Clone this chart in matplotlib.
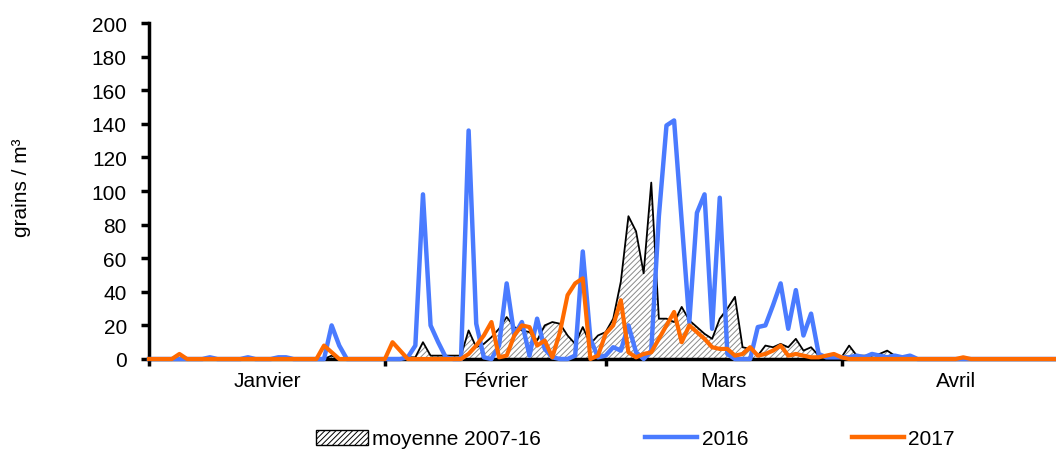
import matplotlib.pyplot as plt
import numpy as np
from matplotlib.patches import Patch
from matplotlib.lines import Line2D

# daily pollen counts, Jan 1 .. Apr 30 (index 0 = 1 janvier)
moyenne = (
    # janvier
    [0, 0, 0, 0, 0, 0, 0, 0, 0, 0, 0, 0, 0, 0, 0, 0, 0, 0, 0, 0,
     0, 0, 0, 0, 2, 0, 0, 0, 0, 0, 0]
    # fevrier
    + [0, 0, 0, 1, 1, 10, 2, 2, 2, 2, 2, 17, 7, 9, 13, 18, 25, 19, 17, 16,
       11, 20, 22, 21, 14, 9, 19, 9, 14]
    # mars
    + [16, 24, 46, 85, 76, 51, 105, 24, 24, 22, 31, 23, 19, 15, 12, 24, 30, 37, 7, 6,
       2, 8, 7, 9, 7, 12, 5, 7, 2, 1, 1]
    # avril
    + [1, 8, 2, 2, 2, 3, 5, 2, 1, 1, 0.5, 0, 0, 0, 0, 0, 0, 0, 0, 0,
       0, 0, 0, 0, 0, 0, 0, 0, 0, 0]
)
y2016 = (
    [0, 0, 0, 0, 0, 0, 0, 0, 1, 0, 0, 0, 0, 1, 0, 0, 0, 1, 1, 0,
     0, 0, 0, 0, 20, 8, 0, 0, 0, 0, 0]
    + [0, 0, 0, 1, 8, 98, 20, 10, 1, 0, 0, 136, 21, 1, 0, 8, 45, 14, 22, 2,
       24, 6, 1, 0, 0, 2, 64, 12, 1]
    + [2, 7, 5, 20, 4, 0, 5, 85, 139, 142, 82, 22, 87, 98, 18, 96, 3, 0, 0, 0,
       19, 20, 32, 45, 18, 41, 14, 27, 3, 1, 1]
    + [1, 1, 2, 1, 3, 2, 1, 2, 1, 2, 0, 0, 0, 0, 0, 0, 0, 0, 0, 0,
       0, 0, 0, 0, 0, 0, 0, 0, 0, 0]
)
y2017 = (
    [0, 0, 0, 0, 3, 0, 0, 0, 0, 0, 0, 0, 0, 0, 0, 0, 0, 0, 0, 0,
     0, 0, 0, 8, 4, 0, 0, 0, 0, 0, 0]
    + [0, 10, 5, 0, 0, 0, 0, 0, 0, 0, 0, 3, 8, 14, 22, 1, 2, 14, 20, 19,
       8, 11, 1, 16, 38, 45, 48, 0, 2]
    + [15, 20, 35, 4, 1, 3, 4, 12, 20, 28, 10, 20, 16, 12, 7, 6, 6, 2, 3, 7,
       2, 3, 5, 8, 2, 3, 2, 1, 1, 2, 3]
    + [1, 0, 0, 0, 0, 0, 0, 0, 0, 0, 0, 0, 0, 0, 0, 0, 1, 0, 0, 0,
       0, 0, 0, 0, 0, 0, 0, 0, 0, 0]
)
months = ["Janvier", "Février", "Mars", "Avril"]
month_starts = [0, 31, 60, 91, 121]
labels = ["moyenne 2007-16", "2016", "2017"]

blue = "#4a7bff"
orange = "#ff6a00"
fs = 15

plt.rcParams['font.family'] = ['Liberation Sans', 'DejaVu Sans']
plt.rcParams['hatch.color'] = '#8a8a8a'
plt.rcParams['hatch.linewidth'] = 0.7

fig = plt.figure(figsize=(10.56, 4.56), dpi=100)
ax = fig.add_axes([149/1056, 96/456, 1 - 149/1056, 336/456])

days = np.arange(len(moyenne))
ax.fill_between(days, 0, moyenne, facecolor='white', edgecolor='#8a8a8a',
                hatch='//////', linewidth=0, zorder=1)
ax.plot(days, moyenne, color='black', lw=1.3, zorder=2, clip_on=False)
ax.plot(days, y2016, color=blue, lw=3.2, zorder=3, clip_on=False)
ax.plot(days, y2017, color=orange, lw=3, zorder=4, clip_on=False)

ax.set_xlim(0, (1056 - 149) / 7.61)
ax.set_ylim(0, 200)
ax.set_yticks(range(0, 201, 20))

ax.set_xticks(month_starts[:-1])
ax.set_xticklabels([])
mids = [(a + b) / 2 for a, b in zip(month_starts[:-1], month_starts[1:])]
ax.set_xticks(mids, minor=True)
ax.set_xticklabels(months, minor=True)

ax.tick_params(axis='x', which='major', length=5, width=2.5, direction='out')
ax.tick_params(axis='x', which='minor', length=0, pad=9, labelsize=fs)
ax.tick_params(axis='y', length=6, width=2.5, pad=10, labelsize=fs)

for s in ['top', 'right']:
    ax.spines[s].set_visible(False)
for s in ['left', 'bottom']:
    ax.spines[s].set_linewidth(2.5)

fig.text(22/1056, 1 - 188/456, "grains / m³", rotation=90,
         ha='center', va='center', fontsize=fs)

handles = [Patch(facecolor='white', edgecolor='black', hatch='//////', lw=1),
           Line2D([], [], color=blue, lw=3.2),
           Line2D([], [], color=orange, lw=3.2)]
fig.legend(handles, labels, loc='center left', bbox_to_anchor=(316/1056, 1 - 440/456),
           ncol=3, frameon=False, fontsize=fs, handlelength=2.5,
           handletextpad=0.2, columnspacing=5.0, borderpad=0, borderaxespad=0)

fig.savefig('out.png', dpi=100)
